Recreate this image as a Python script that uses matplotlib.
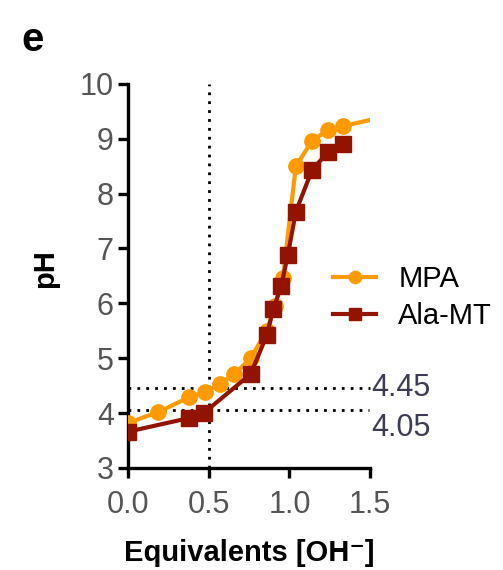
import matplotlib
matplotlib.use("Agg")
import matplotlib.pyplot as plt

plt.rcParams['font.family'] = ['Liberation Sans', 'DejaVu Sans']

# titration data
mpa_eq = [0.0, 0.19, 0.38, 0.48, 0.57, 0.66, 0.76, 0.86, 0.91, 0.96, 1.04, 1.14, 1.24, 1.33, 1.5]
mpa_ph = [3.82, 4.02, 4.29, 4.39, 4.53, 4.71, 5.0, 5.5, 5.95, 6.46, 8.5, 8.96, 9.16, 9.23, 9.34]
ala_eq = [0.0, 0.38, 0.47, 0.76, 0.86, 0.90, 0.95, 0.99, 1.04, 1.14, 1.24, 1.33]
ala_ph = [3.66, 3.91, 4.0, 4.71, 5.42, 5.89, 6.32, 6.88, 7.67, 8.43, 8.76, 8.9]
half_eq = 0.5
pka_vals = [4.45, 4.05]

orange = '#FF9A00'
darkred = '#921400'
gray = '#555555'
txtcol = '#3c3c58'

fig = plt.figure(figsize=(5.03, 5.70), dpi=100)
ax = fig.add_axes([0.254, 0.179, 0.482, 0.674])

ax.plot(mpa_eq, mpa_ph, color=orange, lw=3, marker='o', ms=11,
        markevery=list(range(len(mpa_eq) - 1)), label='MPA', zorder=3)
ax.plot(ala_eq, ala_ph, color=darkred, lw=3, marker='s', ms=11,
        label='Ala-MT', zorder=4)

dots = (0, (1, 2.2))
ax.axvline(half_eq, color='black', ls=dots, lw=2, zorder=1)
ax.plot([0, 1.5], [pka_vals[0]] * 2, color='black', ls=dots, lw=2, zorder=1, clip_on=False)
ax.plot([0, 1.49], [pka_vals[1]] * 2, color='black', ls=dots, lw=2, zorder=1, clip_on=False)
ax.text(1.505, pka_vals[0], '4.45', color=txtcol, fontsize=22, va='center', ha='left')
ax.text(1.505, pka_vals[1] - 0.33, '4.05', color=txtcol, fontsize=22, va='center', ha='left')

ax.set_xlim(0, 1.5)
ax.set_ylim(3, 10)
ax.set_xticks([0.0, 0.5, 1.0, 1.5])
ax.set_xticklabels(['0.0', '0.5', '1.0', '1.5'])
ax.set_yticks(range(3, 11))
ax.spines['top'].set_visible(False)
ax.spines['right'].set_visible(False)
for s in ['left', 'bottom']:
    ax.spines[s].set_linewidth(2.4)
ax.tick_params(width=2.4, length=7, labelsize=22, labelcolor=gray)
ax.tick_params(axis='x', pad=9)
ax.tick_params(axis='y', pad=3)

ax.set_ylabel('pH', fontsize=21, fontweight='bold')
ax.yaxis.set_label_coords(-0.285, 0.52)
ax.set_xlabel('Equivalents [OH\u207b]', fontsize=21, fontweight='bold')
ax.xaxis.set_label_coords(0.5, -0.185)

ax.legend(loc='center left', bbox_to_anchor=(0.845, 0.443), frameon=False,
          fontsize=21, handlelength=1.5, handletextpad=0.75, labelspacing=0.3,
          borderpad=0, borderaxespad=0, markerscale=0.8)

fig.text(0.043, 0.93, 'e', fontsize=29, fontweight='bold', va='center')

fig.savefig('out.png', dpi=100)
